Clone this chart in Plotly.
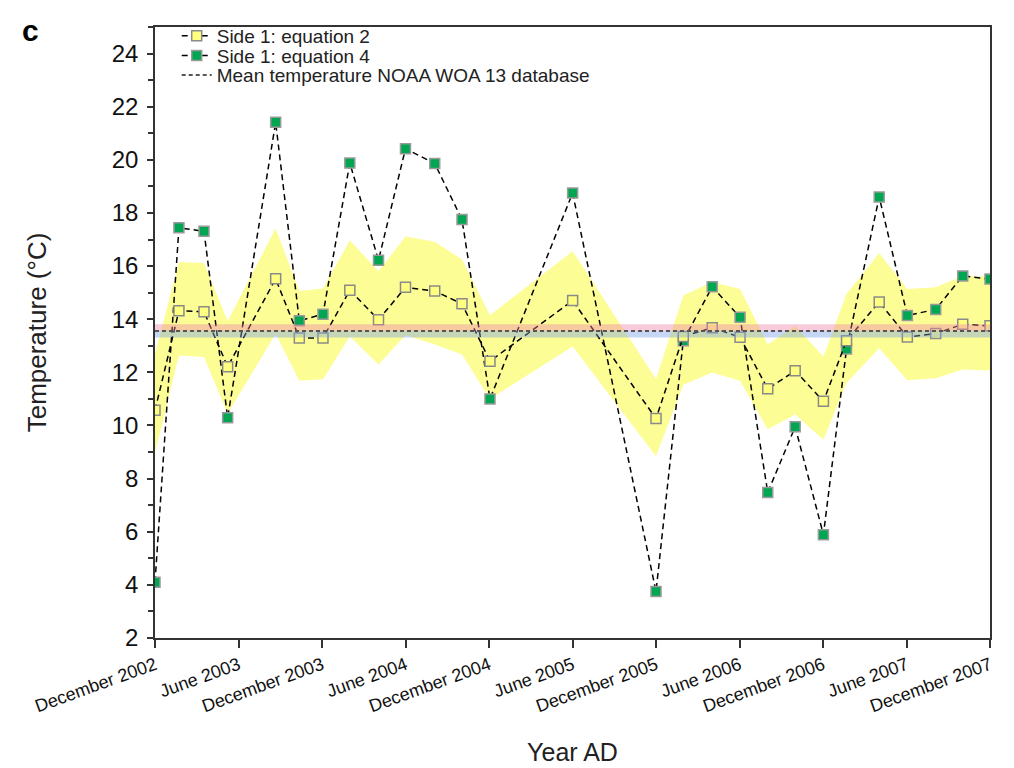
import plotly.graph_objects as go

# months elapsed since December 2002 for each sample
months = [0, 1.72, 3.52, 5.22, 8.67, 10.37, 12.07, 14.0, 16.06, 18.0, 20.1, 22.06, 24.07,
          30.01, 36.0, 37.96, 40.04, 42.04, 44.03, 46.0, 48.03, 49.69, 52.04, 54.06,
          56.1, 58.04, 60.0]

eq4_temp = [4.1, 17.44, 17.31, 10.29, 21.41, 13.94, 14.19, 19.88, 16.22, 20.42, 19.86,
            17.75, 11.0, 18.75, 3.75, 13.19, 15.22, 14.07, 7.48, 9.95, 5.89, 12.88,
            18.6, 14.14, 14.37, 15.63, 15.51]

eq2_temp = [10.57, 14.32, 14.28, 12.21, 15.52, 13.29, 13.29, 15.09, 13.98, 15.2, 15.06,
            14.58, 12.42, 14.7, 10.26, 13.35, 13.68, 13.32, 11.38, 12.06, 10.91, 13.19,
            14.65, 13.33, 13.46, 13.81, 13.75]

eq2_upper = [12.7, 16.15, 16.12, 13.93, 17.42, 15.06, 15.16, 16.97, 15.81, 17.11, 16.92,
             16.25, 14.15, 16.56, 11.75, 14.89, 15.4, 15.14, 13.06, 13.74, 12.6, 14.95,
             16.49, 15.14, 15.2, 15.63, 15.6]

eq2_lower = [8.96, 12.63, 12.58, 10.44, 13.45, 11.68, 11.74, 13.35, 12.3, 13.4, 13.05,
             12.67, 11.0, 12.97, 8.84, 11.53, 11.99, 11.68, 9.86, 10.41, 9.46, 11.6,
             12.91, 11.7, 11.78, 12.11, 12.07]

noaa_mean = 13.56
noaa_sd = 0.25

tick_months = [0, 6, 12, 18, 24, 30, 36, 42, 48, 54, 60]
tick_labels = ["December 2002", "June 2003", "December 2003", "June 2004", "December 2004",
               "June 2005", "December 2005", "June 2006", "December 2006", "June 2007",
               "December 2007"]

FONT = "Liberation Sans, Arial, sans-serif"
dash = "6px,4px"

fig = go.Figure()

fig.add_trace(go.Scatter(
    x=months + months[::-1], y=eq2_upper + eq2_lower[::-1],
    fill="toself", fillcolor="#FDFD96", line=dict(width=0),
    mode="lines", showlegend=False, hoverinfo="skip"))

fig.add_trace(go.Scatter(
    x=months, y=eq4_temp, name="Side 1: equation 4", mode="lines+markers",
    line=dict(color="black", width=1.5, dash=dash),
    marker=dict(symbol="square", size=10, color="#00A651",
                line=dict(color="#9a9a9a", width=1.5)),
    legend="legend2"))

fig.add_trace(go.Scatter(
    x=months, y=eq2_temp, name="Side 1: equation 2", mode="lines+markers",
    line=dict(color="black", width=1.5, dash=dash),
    marker=dict(symbol="square", size=10, color="#FFFF80",
                line=dict(color="#8a8a8a", width=1.5)),
    legend="legend"))

# NOAA mean +/- sd bands (drawn on top, translucent)
fig.add_shape(type="rect", xref="paper", x0=0, x1=1, yref="y",
              y0=noaa_mean, y1=noaa_mean + noaa_sd,
              fillcolor="rgba(235,130,170,0.42)", line=dict(width=0), layer="above")
fig.add_shape(type="rect", xref="paper", x0=0, x1=1, yref="y",
              y0=noaa_mean - noaa_sd, y1=noaa_mean,
              fillcolor="rgba(120,160,230,0.42)", line=dict(width=0), layer="above")
fig.add_shape(type="line", xref="paper", x0=0, x1=1, yref="y",
              y0=noaa_mean, y1=noaa_mean,
              line=dict(color="#555555", width=2, dash="4px,3px"), layer="above",
              showlegend=True, name="Mean temperature NOAA WOA 13 database",
              legend="legend3")

fig.add_annotation(text="<b>c</b>", xref="paper", yref="paper", x=-0.162, y=1.025,
                   xanchor="left", yanchor="top", showarrow=False,
                   font=dict(family=FONT, size=30, color="black"))

leg_common = dict(x=0.026, xanchor="left", yanchor="middle",
                  bgcolor="rgba(0,0,0,0)", font=dict(family=FONT, size=19, color="#222"),
                  itemwidth=30)

fig.update_layout(
    width=1006, height=760,
    margin=dict(l=147, r=24, t=9, b=130),
    paper_bgcolor="white", plot_bgcolor="white",
    font=dict(family=FONT, color="#222"),
    showlegend=True,
    legend=dict(y=0.9855, **leg_common),
    legend2=dict(y=0.9533, **leg_common),
    legend3=dict(y=0.9211, **leg_common),
    xaxis=dict(range=[0, 60], tickvals=tick_months, ticktext=tick_labels,
               tickangle=-20, ticks="outside", ticklen=8, tickwidth=1.5, tickcolor="#333",
               showline=True, linecolor="#333", linewidth=1.5, mirror=True,
               showgrid=False, zeroline=False,
               tickfont=dict(family=FONT, size=18, color="#111"),
               title=dict(text="Year AD", font=dict(family=FONT, size=25, color="#222"),
                          standoff=28),
               automargin=False),
    yaxis=dict(range=[2, 25], tick0=0, dtick=2, ticks="outside", ticklen=6,
               tickwidth=1.5, tickcolor="#333",
               minor=dict(dtick=1, ticks="outside", ticklen=5, tickcolor="#333", tickwidth=1.5),
               showline=True, linecolor="#333", linewidth=1.5, mirror=True,
               showgrid=False, zeroline=False, ticklabelstandoff=4,
               tickfont=dict(family=FONT, size=24, color="#111"),
               title=dict(text="Temperature (°C)", font=dict(family=FONT, size=26, color="#222"),
                          standoff=58),
               automargin=False),
)

fig.write_html("out.html")
